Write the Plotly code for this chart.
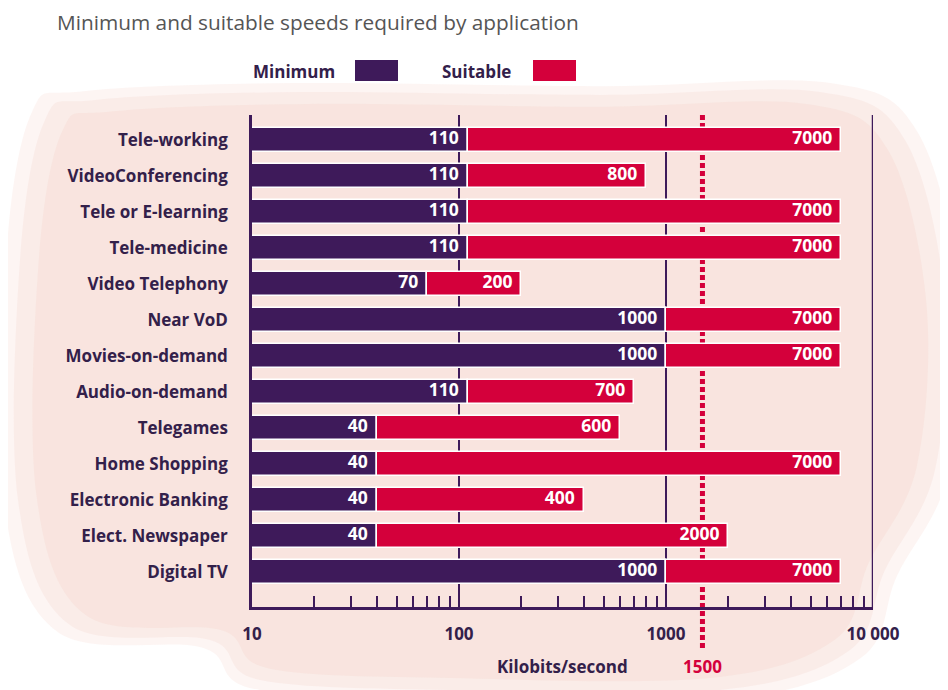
import math
import plotly.graph_objects as go

# ---------------- data ----------------
categories = ["Tele-working", "VideoConferencing", "Tele or E-learning", "Tele-medicine",
              "Video Telephony", "Near VoD", "Movies-on-demand", "Audio-on-demand",
              "Telegames", "Home Shopping", "Electronic Banking", "Elect. Newspaper",
              "Digital TV"]
minimum = [110, 110, 110, 110, 70, 1000, 1000, 110, 40, 40, 40, 40, 1000]
suitable = [7000, 800, 7000, 7000, 200, 7000, 7000, 700, 600, 7000, 400, 2000, 7000]
axis_start = 10
threshold = 1500
major_ticks = [10, 100, 1000, 10000]
major_labels = ["10", "100", "1000", "10 000"]
x_title = "Kilobits/second"
title = "Minimum and suitable speeds required by application"

# ---------------- style ----------------
OFF = 8  # default page body margin
W, H = 948 - OFF, 690 - OFF
L, R, T, B = 252, 873, 115, 607   # target pixel positions in the screenshot
C_MIN = "#3e1a5a"
C_SUIT = "#d4003b"
C_TEXT = "#33204a"
FONT = "Open Sans"


def px(x):
    return (x - L) / (R - L)


def py(y):
    return (B - y) / (B - T)


ypos = list(range(len(categories)))
row_px = 36.0
y_top = -(140 - T) / row_px
y_bot = (len(categories) - 1) + (B - 572) / row_px

fig = go.Figure()
fig.add_trace(go.Bar(
    y=ypos, x=[m - axis_start for m in minimum], base=[axis_start] * len(minimum),
    orientation="h", marker=dict(color=C_MIN, line=dict(color="white", width=1.5)),
    width=0.68, name="Minimum", showlegend=False))
fig.add_trace(go.Bar(
    y=ypos, x=[s - m for s, m in zip(suitable, minimum)], base=minimum,
    orientation="h", marker=dict(color=C_SUIT, line=dict(color="white", width=1.5)),
    width=0.68, name="Suitable", showlegend=False))

# value labels at the end of each bar
for vals in (minimum, suitable):
    fig.add_trace(go.Scatter(
        x=vals, y=ypos, mode="text", text=[f"{v}\u2002" for v in vals],
        textposition="middle left", cliponaxis=False,
        textfont=dict(color="white", size=17.5, family=FONT, weight="bold"),
        showlegend=False, hoverinfo="skip"))

# tick positions from the log scale
tickvals = []
ticktext = []
for e in range(1, 4):
    for k in range(1, 10):
        v = k * 10 ** e
        tickvals.append(v)
        ticktext.append(major_labels[major_ticks.index(v)] if v in major_ticks else "")
tickvals.append(major_ticks[-1])
ticktext.append(major_labels[-1])

shapes = []
# background blob
blob = [(95, 100), (300, 92), (600, 95), (820, 92), (905, 140), (945, 300),
        (935, 470), (885, 570), (850, 650), (720, 690), (450, 690), (260, 680),
        (210, 640), (70, 625), (18, 500), (20, 260), (45, 120)]


def blob_path(pts, scale=1.0, cx=480, cy=390):
    pp = [(cx + (x - cx) * scale, cy + (y - cy) * scale) for x, y in pts]
    n = len(pp)
    d = ""
    for i in range(n):
        p0 = pp[i - 1]
        p1 = pp[i]
        p2 = pp[(i + 1) % n]
        p3 = pp[(i + 2) % n]
        if i == 0:
            d += f"M{px(p1[0]):.4f},{py(p1[1]):.4f} "
        c1 = (p1[0] + (p2[0] - p0[0]) / 6, p1[1] + (p2[1] - p0[1]) / 6)
        c2 = (p2[0] - (p3[0] - p1[0]) / 6, p2[1] - (p3[1] - p1[1]) / 6)
        d += (f"C{px(c1[0]):.4f},{py(c1[1]):.4f} {px(c2[0]):.4f},{py(c2[1]):.4f} "
              f"{px(p2[0]):.4f},{py(p2[1]):.4f} ")
    return d + "Z"


for sc, op in [(1.03, 0.25), (1.0, 0.3), (0.96, 0.35)]:
    shapes.append(dict(type="path", xref="paper", yref="paper", path=blob_path(blob, sc),
                       fillcolor="#f6d6cf", opacity=op, line=dict(width=0), layer="below"))

# vertical reference lines
for v in major_ticks[1:3]:
    shapes.append(dict(type="line", xref="x", yref="paper", x0=v, x1=v, y0=0, y1=1,
                       line=dict(color=C_MIN, width=2), layer="below"))
shapes.append(dict(type="line", xref="x", yref="paper", x0=major_ticks[-1], x1=major_ticks[-1],
                   y0=0, y1=1, line=dict(color=C_MIN, width=2.5), layer="above"))
shapes.append(dict(type="line", xref="x", yref="paper", x0=threshold, x1=threshold,
                   y0=py(648), y1=py(113), line=dict(color=C_SUIT, width=5, dash="5px,3px"),
                   layer="below"))

annotations = [
    dict(text=title, xref="paper", yref="paper", x=px(55), y=py(22), xanchor="left",
         yanchor="middle", showarrow=False, font=dict(size=20.8, color="#555555", family=FONT)),
    dict(text="Minimum", xref="paper", yref="paper", x=px(337), y=py(71), xanchor="right",
         yanchor="middle", showarrow=False,
         font=dict(size=17, color=C_TEXT, family=FONT, weight="bold")),
    dict(text="Suitable", xref="paper", yref="paper", x=px(513), y=py(71), xanchor="right",
         yanchor="middle", showarrow=False,
         font=dict(size=17, color=C_TEXT, family=FONT, weight="bold")),
    dict(text=x_title, xref="paper", yref="paper", x=px(562), y=py(666), xanchor="center",
         yanchor="middle", showarrow=False,
         font=dict(size=17, color=C_TEXT, family=FONT, weight="bold")),
    dict(text=str(threshold), xref="x", yref="paper", x=math.log10(threshold), y=py(666),
         xanchor="center", yanchor="middle", showarrow=False,
         font=dict(size=17, color=C_SUIT, family=FONT, weight="bold")),
]
shapes.append(dict(type="rect", xref="paper", yref="paper", x0=px(355), x1=px(398),
                   y0=py(81), y1=py(60), fillcolor=C_MIN, line=dict(width=0)))
shapes.append(dict(type="rect", xref="paper", yref="paper", x0=px(533), x1=px(576),
                   y0=py(81), y1=py(60), fillcolor=C_SUIT, line=dict(width=0)))

fig.update_layout(
    width=W, height=H,
    margin=dict(l=L - OFF, r=948 - R, t=T - OFF, b=690 - B, pad=0),
    paper_bgcolor="white", plot_bgcolor="rgba(0,0,0,0)",
    barmode="overlay", bargap=0, shapes=shapes, annotations=annotations,
    font=dict(family=FONT, color=C_TEXT),
    xaxis=dict(type="log", range=[1, 4], tickmode="array", tickvals=tickvals,
               ticktext=ticktext, ticks="inside", ticklen=11, tickwidth=2, tickcolor=C_MIN,
               showgrid=False, zeroline=False, showline=True, linecolor=C_MIN, linewidth=2.5,
               ticklabelstandoff=10,
               tickfont=dict(size=17, color=C_TEXT, family=FONT, weight="bold")),
    yaxis=dict(range=[y_bot, y_top], tickmode="array", tickvals=ypos, ticktext=categories,
               ticks="", showgrid=False, zeroline=False, showline=True, linecolor=C_MIN,
               linewidth=2.5, ticklabelstandoff=18,
               tickfont=dict(size=17, color=C_TEXT, family=FONT, weight="bold")),
)

fig.write_html("out.html")
